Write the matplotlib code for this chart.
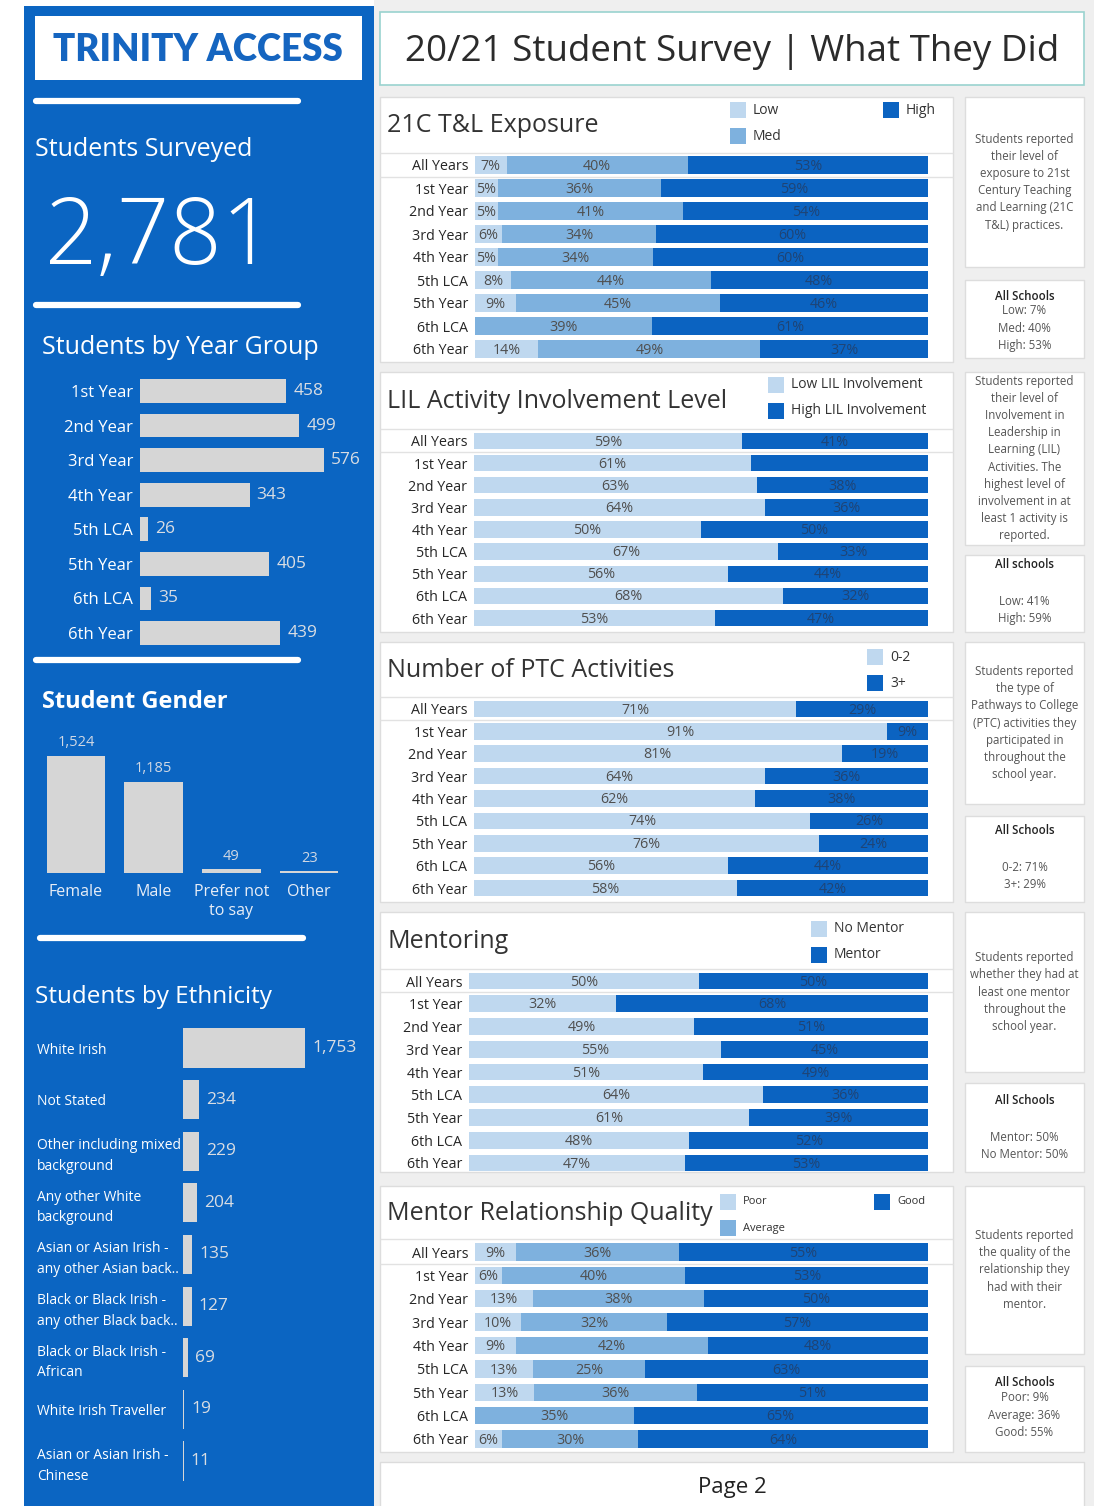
import numpy as np
import matplotlib
matplotlib.use('Agg')
import matplotlib.pyplot as plt
from matplotlib.patches import Rectangle
from matplotlib.lines import Line2D

W, H = 1094, 1506
plt.rcParams['font.family'] = ['Open Sans', 'DejaVu Sans']

# ---------------- data ----------------
total_surveyed = "2,781"
year_groups = ['1st Year', '2nd Year', '3rd Year', '4th Year', '5th LCA', '5th Year', '6th LCA', '6th Year']
year_counts = [458, 499, 576, 343, 26, 405, 35, 439]
gender_labels = ['Female', 'Male', 'Prefer not\nto say', 'Other']
gender_counts = [1524, 1185, 49, 23]
eth_labels = ['White Irish', 'Not Stated', 'Other including mixed\nbackground',
              'Any other White\nbackground', 'Asian or Asian Irish -\nany other Asian back..',
              'Black or Black Irish -\nany other Black back..', 'Black or Black Irish -\nAfrican',
              'White Irish Traveller', 'Asian or Asian Irish -\nChinese']
eth_counts = [1753, 234, 229, 204, 135, 127, 69, 19, 11]

rows = ['All Years'] + year_groups
t_low = [7, 5, 5, 6, 5, 8, 9, 0, 14]
t_med = [40, 36, 41, 34, 34, 44, 45, 39, 49]
t_high = [53, 59, 54, 60, 60, 48, 46, 61, 37]
lil_low = [59, 61, 63, 64, 50, 67, 56, 68, 53]
lil_high = [41, 39, 38, 36, 50, 33, 44, 32, 47]
ptc_low = [71, 91, 81, 64, 62, 74, 76, 56, 58]
ptc_high = [29, 9, 19, 36, 38, 26, 24, 44, 42]
men_no = [50, 32, 49, 55, 51, 64, 61, 48, 47]
men_yes = [50, 68, 51, 45, 49, 36, 39, 52, 53]
mrq_poor = [9, 6, 13, 10, 9, 13, 13, 0, 6]
mrq_avg = [36, 40, 38, 32, 42, 25, 36, 35, 30]
mrq_good = [55, 53, 50, 57, 48, 63, 51, 65, 64]

BLUE = '#0b65c2'
C_LOW = '#bfd8ef'
C_MED = '#7eb1de'
C_HIGH = '#0b63c1'
TXT_LIGHT = '#4f4f4f'
TXT_DARK = '#1f4475'
PANEL_BG = '#efefef'

fig = plt.figure(figsize=(W / 100, H / 100), dpi=100)
fig.patch.set_facecolor('white')


def fx(x):
    return x / W


def fy(y):
    return 1 - y / H


def add_rect(x0, y0, x1, y1, fc, ec='none', lw=0, z=-5):
    fig.add_artist(Rectangle((fx(x0), fy(y1)), (x1 - x0) / W, (y1 - y0) / H,
                             transform=fig.transFigure, facecolor=fc, edgecolor=ec,
                             linewidth=lw, zorder=z))


def add_text(x, y, s, **kw):
    kw.setdefault('va', 'center')
    fig.text(fx(x), fy(y), s, **kw)


def add_axes(x0, y0, x1, y1):
    ax = fig.add_axes([fx(x0), fy(y1), (x1 - x0) / W, (y1 - y0) / H])
    ax.set_facecolor('none')
    for s in ax.spines.values():
        s.set_visible(False)
    return ax


def hline(x0, x1, y, color, lw, cap='butt', z=1):
    fig.add_artist(Line2D([fx(x0), fx(x1)], [fy(y), fy(y)], transform=fig.transFigure,
                          color=color, linewidth=lw, solid_capstyle=cap, zorder=z))


# ---------------- backgrounds ----------------
add_rect(374, 0, W, H, PANEL_BG, z=-10)
add_rect(24, 6, 374, H, BLUE, z=-9)

# logo
add_rect(35, 16, 362, 80, 'white', z=-4)
add_text(198, 50, 'TRINITY ACCESS', ha='center', fontsize=26.5, fontweight='heavy',
         color='#1565c0', family=['Lato', 'DejaVu Sans'])

# white separators
for (a, b, y) in [(36, 298, 101), (36, 298, 305), (36, 298, 660), (40, 303, 938)]:
    hline(a, b, y, 'white', 4.5, cap='round')

# Students surveyed
add_text(35, 149, 'Students Surveyed', ha='left', fontsize=18, color='white')
add_text(45, 240, total_surveyed, ha='left', fontsize=66, color='white', fontweight='light')

# Year group
add_text(42, 348, 'Students by Year Group', ha='left', fontsize=18, color='white')
n = len(year_groups)
step = (633 - 391) / (n - 1)
ax = add_axes(140, 391 - step / 2, 370, 633 + step / 2)
yy = np.arange(n)
ax.barh(yy, year_counts, height=0.69, color='#d6d6d6')
ax.set_xlim(0, 720)
ax.set_ylim(n - 0.5, -0.5)
ax.set_xticks([])
ax.set_yticks(yy, year_groups)
ax.tick_params(axis='y', length=0, pad=5, labelsize=12, labelcolor='white')
for i, v in enumerate(year_counts):
    ax.annotate(str(v), (v, i), xytext=(5, 0), textcoords='offset points', va='center',
                ha='left', fontsize=12.5, color='#d9dde3')

# Gender
add_text(42, 702, 'Student Gender', ha='left', fontsize=17, fontweight='bold', color='white')
ax = add_axes(37, 730, 348, 873)
xg = np.arange(len(gender_counts))
ax.bar(xg, gender_counts, width=0.75, color='#d6d6d6')
ax.set_xlim(-0.5, 3.5)
ax.set_ylim(0, 1862)
ax.set_yticks([])
ax.set_xticks(xg, gender_labels)
ax.tick_params(axis='x', length=0, pad=8, labelsize=11.5, labelcolor='#e8eef7')
for i, v in enumerate(gender_counts):
    ax.annotate(f'{v:,}', (i, v), xytext=(0, 4), textcoords='offset points', ha='center',
                va='bottom', fontsize=10.5, color='#d0d8e4')

# Ethnicity
add_text(35, 997, 'Students by Ethnicity', ha='left', fontsize=17.5, color='white')
ne = len(eth_counts)
stepe = (1461 - 1048) / (ne - 1)
ax = add_axes(183, 1048 - stepe / 2, 370, 1461 + stepe / 2)
ye = np.arange(ne)
ax.barh(ye, eth_counts, height=0.76, color='#d6d6d6')
ax.set_xlim(0, 2687)
ax.set_ylim(ne - 0.5, -0.5)
ax.set_xticks([])
ax.set_yticks(ye, eth_labels)
ax.tick_params(axis='y', length=0, pad=(183 - 37) * 0.72, labelsize=10, labelcolor='white')
for t in ax.get_yticklabels():
    t.set_ha('left')
    t.set_linespacing(1.5)
for i, v in enumerate(eth_counts):
    ax.annotate(f'{v:,}', (v, i), xytext=(5, 0), textcoords='offset points', va='center',
                ha='left', fontsize=12.5, color='#d9dde3')

# ---------------- right side ----------------
add_rect(380, 12, 1084, 85, 'white', ec='#9ad3cf', lw=1.2, z=-4)
add_text(732, 52, '20/21 Student Survey | What They Did', ha='center', fontsize=26.5, color='#2b2b2b')

add_rect(380, 1462, 1084, 1512, 'white', ec='#dcdcdc', lw=1, z=-4)
add_text(732, 1488, 'Page 2', ha='center', fontsize=16, color='#222222')


def legend_item(x, y, label, color, size=16, fs=10):
    add_rect(x, y - size / 2, x + size, y + size / 2, color, z=2)
    add_text(x + size + 7, y, label, ha='left', fontsize=fs, color='#333333')


def stack_panel(py0, py1, title, title_y, x0, y_first, y_last, series, colors, tcolors, hidden=()):
    add_rect(380, py0, 953, py1, 'white', ec='#dddddd', lw=1, z=-4)
    add_text(387, title_y, title, ha='left', fontsize=18, color='#333333')
    nr = len(rows)
    st = (y_last - y_first) / (nr - 1)
    hline(380, 953, y_first - st / 2 - 1, '#e2e2e2', 1)
    hline(380, 953, y_first + st / 2, '#e2e2e2', 1)
    ax = add_axes(x0, y_first - st / 2, 928, y_last + st / 2)
    data = np.array(series, float)
    frac = data / data.sum(axis=0)
    left = np.zeros(nr)
    y = np.arange(nr)
    for k in range(len(series)):
        ax.barh(y, frac[k], left=left, height=0.74, color=colors[k], linewidth=0)
        for i in range(nr):
            if data[k, i] > 0 and (k, i) not in hidden:
                ax.text(left[i] + frac[k, i] / 2, i + 0.05, f'{int(data[k, i])}%', ha='center',
                        va='center', fontsize=10.3, color=tcolors[k])
        left += frac[k]
    ax.set_xlim(0, 1)
    ax.set_ylim(nr - 0.5, -0.5)
    ax.set_xticks([])
    ax.set_yticks(y, rows)
    ax.tick_params(axis='y', length=0, pad=5, labelsize=10.3, labelcolor='#262626')
    return ax


def side_box(d0, d1, desc, a0, a1):
    add_rect(965, d0, 1084, d1, 'white', ec='#dddddd', lw=1, z=-4)
    add_rect(965, a0, 1084, a1, 'white', ec='#dddddd', lw=1, z=-4)
    add_text(1024.5, (d0 + d1) / 2, desc, ha='center', fontsize=8.3, color='#555555',
             linespacing=1.42)


# 21C
stack_panel(97, 362, '21C T&L Exposure', 126, 475, 165, 349, [t_low, t_med, t_high],
            [C_LOW, C_MED, C_HIGH], [TXT_LIGHT, TXT_LIGHT, TXT_DARK])
legend_item(730, 110, 'Low', C_LOW)
legend_item(730, 136, 'Med', C_MED)
legend_item(883, 110, 'High', C_HIGH)

# LIL
stack_panel(372, 632, 'LIL Activity Involvement Level', 402, 474, 441, 618, [lil_low, lil_high],
            [C_LOW, C_HIGH], [TXT_LIGHT, TXT_DARK], hidden=[(1, 1)])
legend_item(768, 385, 'Low LIL Involvement', C_LOW)
legend_item(768, 411, 'High LIL Involvement', C_HIGH)

# PTC
stack_panel(642, 902, 'Number of PTC Activities', 670, 474, 709, 888, [ptc_low, ptc_high],
            [C_LOW, C_HIGH], [TXT_LIGHT, TXT_DARK])
legend_item(867, 657, '0-2', C_LOW)
legend_item(867, 683, '3+', C_HIGH)

# Mentoring
stack_panel(912, 1172, 'Mentoring', 941, 469, 981, 1163, [men_no, men_yes],
            [C_LOW, C_HIGH], [TXT_LIGHT, TXT_DARK])
legend_item(811, 929, 'No Mentor', C_LOW)
legend_item(811, 955, 'Mentor', C_HIGH)

# Mentor relationship quality
stack_panel(1186, 1452, 'Mentor Relationship Quality', 1214, 475, 1252, 1439,
            [mrq_poor, mrq_avg, mrq_good], [C_LOW, C_MED, C_HIGH],
            [TXT_LIGHT, TXT_LIGHT, TXT_DARK])
legend_item(720, 1202, 'Poor', C_LOW, fs=8)
legend_item(720, 1228, 'Average', C_MED, fs=8)
legend_item(874, 1202, 'Good', C_HIGH, fs=8)

# side descriptions
side_box(97, 267, 'Students reported\ntheir level of\nexposure to 21st\nCentury Teaching\nand Learning (21C\nT&L) practices.', 280, 358)
add_text(1024.5, 296, 'All Schools', ha='center', fontsize=8.3, color='#222222', fontweight='semibold')
add_text(1024.5, 328, 'Low: 7%\nMed: 40%\nHigh: 53%', ha='center', fontsize=8.3, color='#555555', linespacing=1.42)

side_box(372, 545, 'Students reported\ntheir level of\nInvolvement in\nLeadership in\nLearning (LIL)\nActivities. The\nhighest level of\ninvolvement in at\nleast 1 activity is\nreported.', 555, 632)
add_text(1024.5, 564, 'All schools', ha='center', fontsize=8.3, color='#222222', fontweight='semibold')
add_text(1024.5, 610, 'Low: 41%\nHigh: 59%', ha='center', fontsize=8.3, color='#555555', linespacing=1.42)

side_box(642, 804, 'Students reported\nthe type of\nPathways to College\n(PTC) activities they\nparticipated in\nthroughout the\nschool year.', 816, 902)
add_text(1024.5, 831, 'All Schools', ha='center', fontsize=8.3, color='#222222', fontweight='semibold')
add_text(1024.5, 876, '0-2: 71%\n3+: 29%', ha='center', fontsize=8.3, color='#555555', linespacing=1.42)

side_box(912, 1072, 'Students reported\nwhether they had at\nleast one mentor\nthroughout the\nschool year.', 1083, 1172)
add_text(1024.5, 1101, 'All Schools', ha='center', fontsize=8.3, color='#222222', fontweight='semibold')
add_text(1024.5, 1146, 'Mentor: 50%\nNo Mentor: 50%', ha='center', fontsize=8.3, color='#555555', linespacing=1.42)

side_box(1186, 1354, 'Students reported\nthe quality of the\nrelationship they\nhad with their\nmentor.', 1366, 1452)
add_text(1024.5, 1382, 'All Schools', ha='center', fontsize=8.3, color='#222222', fontweight='semibold')
add_text(1024.5, 1415, 'Poor: 9%\nAverage: 36%\nGood: 55%', ha='center', fontsize=8.3, color='#555555', linespacing=1.42)

fig.savefig('out.png', dpi=100)
